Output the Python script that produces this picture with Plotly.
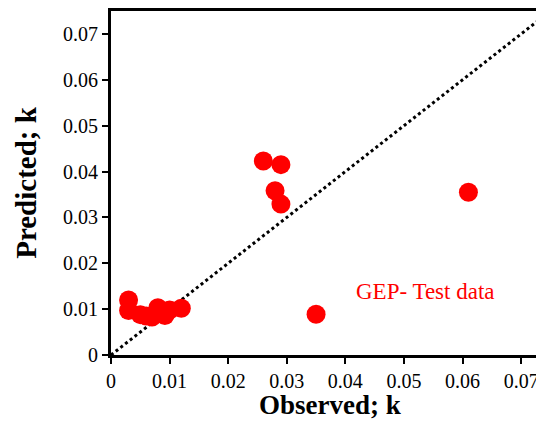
import plotly.graph_objects as go

# observed vs predicted k (GEP test data)
observed = [0.003, 0.003, 0.005, 0.006, 0.007, 0.008, 0.0092, 0.0100, 0.012,
            0.026, 0.029, 0.028, 0.029, 0.035, 0.061]
predicted = [0.0120, 0.0097, 0.0088, 0.0085, 0.0083, 0.0103, 0.0086, 0.0098, 0.0102,
             0.0423, 0.0415, 0.0358, 0.0329, 0.0089, 0.0355]

line_ends = [0, 0.075]
tick_vals = [0, 0.01, 0.02, 0.03, 0.04, 0.05, 0.06, 0.07]
tick_text = ["0", "0.01", "0.02", "0.03", "0.04", "0.05", "0.06", "0.07"]

font = "Liberation Serif"

fig = go.Figure()

# 1:1 line
fig.add_trace(go.Scatter(
    x=line_ends, y=line_ends, mode="lines",
    line=dict(color="black", width=3, dash="dot"),
    showlegend=False, hoverinfo="skip"
))

fig.add_trace(go.Scatter(
    x=observed, y=predicted, mode="markers",
    marker=dict(size=19, color="#FF0000"),
    showlegend=False
))

fig.add_annotation(
    x=0.0537, y=0.0139, xref="x", yref="y",
    text="GEP- Test data", showarrow=False,
    font=dict(family=font, size=23, color="#FF0000")
)

# x title as annotation so it can sit a little lower than plotly's default
fig.add_annotation(
    x=0.505, y=-0.145, xref="paper", yref="paper",
    text="<b>Observed; k</b>", showarrow=False,
    xanchor="center", yanchor="middle",
    font=dict(family=font, size=27, color="black")
)

# page body adds an 8px offset; figure is sized so the page does not scroll
fig.update_layout(
    width=536, height=411,
    margin=dict(l=103, r=0, t=3, b=64),
    plot_bgcolor="white", paper_bgcolor="white",
    font=dict(family=font, color="black"),
    xaxis=dict(
        range=[0, 0.0739], tickvals=tick_vals, ticktext=tick_text,
        showgrid=False, zeroline=False,
        showline=True, linecolor="black", linewidth=3, mirror=True,
        ticks="outside", ticklen=6, tickwidth=2, tickcolor="black",
        tickfont=dict(family=font, size=20, color="black"),
    ),
    yaxis=dict(
        range=[0, 0.075], tickvals=tick_vals, ticktext=tick_text,
        showgrid=False, zeroline=False,
        showline=True, linecolor="black", linewidth=3,
        ticks="outside", ticklen=6, tickwidth=2, tickcolor="black",
        tickfont=dict(family=font, size=20, color="black"),
        title=dict(text="<b>Predicted; k</b>", font=dict(family=font, size=29), standoff=18),
    ),
)

fig.write_html("out.html")
